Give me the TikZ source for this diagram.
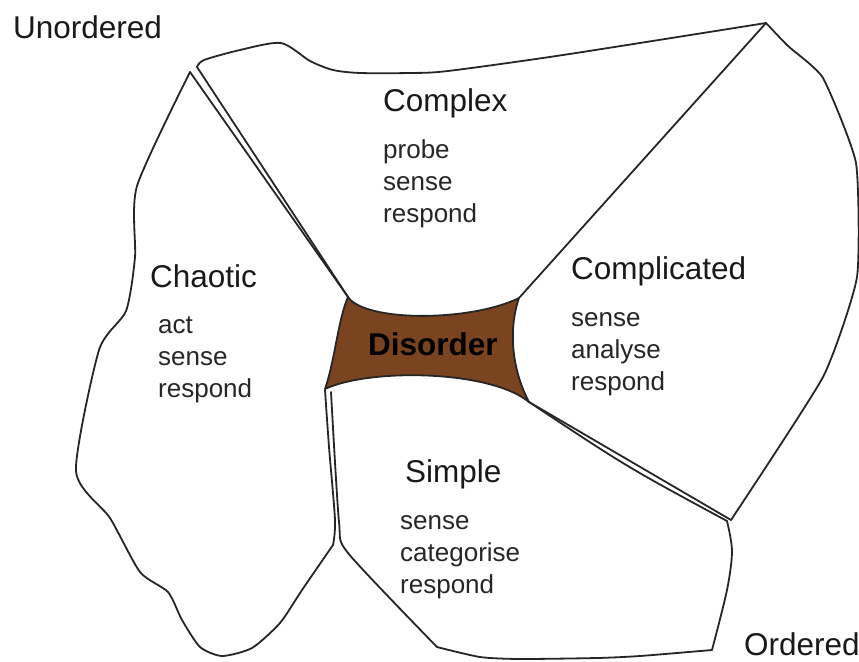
\documentclass[tikz,border=0pt]{standalone}
\usepackage{fontspec}
\setmainfont{Liberation Sans}
\definecolor{disorderbrown}{RGB}{122,68,33}
\definecolor{edgegray}{RGB}{38,38,38}
\tikzset{
  region/.style={draw=edgegray, line width=1.8pt, line join=round, line cap=round},
  domaintitle/.style={anchor=base west, inner sep=0pt, font=\fontsize{31.5}{38}\selectfont, text=black!90},
  stepline/.style={anchor=base west, inner sep=0pt, font=\fontsize{26}{32}\selectfont, text=black!85},
}
\begin{document}
\begin{tikzpicture}[x=1pt, y=-1pt]
\useasboundingbox (0,0) rectangle (859,661);

% corners of the central Disorder patch
\coordinate (DA) at (348,297);
\coordinate (DB) at (519,298);
\coordinate (DC) at (529,402);
\coordinate (DD) at (325,389);
% outer vertices
\coordinate (topR) at (766,23);
\coordinate (cxL) at (197,67);
\coordinate (chT) at (190,72);
\coordinate (botR) at (731,520);

% Complex
\draw[region] plot[smooth, tension=0.45] coordinates {(197,67) (204,60) (240,50) (281,43) (310,61) (333,70) (360,73) (410,73) (448,71) (563,55) (766,23)};
\draw[region] (cxL) -- (DA);
\draw[region] (topR) -- (DB);

% Chaotic
\draw[region] (chT) -- (DA);
\draw[region] plot[smooth, tension=0.4] coordinates {(190,72) (137,186) (135,257) (126,311) (99,350) (76,471) (110,518) (140,572) (168,592) (182,620) (200,647) (222,656) (252,648) (280,623) (302,590) (333,545)};
\draw[region] plot[smooth, tension=0.5] coordinates {(333,545) (335,520) (329,447) (325,390)};

% Complicated
\draw[region] plot[smooth, tension=0.3] coordinates {(766,23) (788,46) (823,78) (856,163) (857,277) (823,377) (731,520)};
\draw[region] (DC) -- (botR);

% Simple
\draw[region] (DC) .. controls (627,467) .. (727,521);
\draw[region] plot[smooth, tension=0.5] coordinates {(727,521) (732,551) (727,590) (712,650)};
\draw[region] plot[smooth, tension=0.4] coordinates {(712,650) (640,656) (597,658) (520,659) (480,657) (437,647)};
\draw[region] plot[smooth, tension=0.4] coordinates {(437,647) (348,553) (339,522) (331,392)};

% Disorder
\draw[region, fill=disorderbrown]
  (DA) .. controls (365,322) and (470,322) .. (DB)
       .. controls (508,330) and (512,370) .. (DC)
       .. controls (490,370) and (370,368) .. (DD)
       .. controls (335,360) and (338,320) .. (DA) -- cycle;

% labels
\node[domaintitle] (unordered) at (13,38) {Unordered};
\node[domaintitle] (ordered) at (744,655) {Ordered};

\node[domaintitle] (complex) at (383,111) {Complex};
\node[stepline] (cx1) at (383,158) {probe};
\node[stepline] (cx2) at (383,190) {sense};
\node[stepline] (cx3) at (383,222) {respond};

\node[domaintitle] (chaotic) at (150,287) {Chaotic};
\node[stepline] (ch1) at (158,333) {act};
\node[stepline] (ch2) at (158,365) {sense};
\node[stepline] (ch3) at (158,397) {respond};

\node[domaintitle] (complicated) at (571,279) {Complicated};
\node[stepline] (cp1) at (571,326) {sense};
\node[stepline] (cp2) at (571,358) {analyse};
\node[stepline] (cp3) at (571,390) {respond};

\node[domaintitle, font=\fontsize{31.5}{38}\selectfont\bfseries, text=black] (disorder) at (368,355) {Disorder};

\node[domaintitle] (simple) at (405,482) {Simple};
\node[stepline] (sm1) at (400,529) {sense};
\node[stepline] (sm2) at (400,561) {categorise};
\node[stepline] (sm3) at (400,593) {respond};
\end{tikzpicture}
\end{document}
